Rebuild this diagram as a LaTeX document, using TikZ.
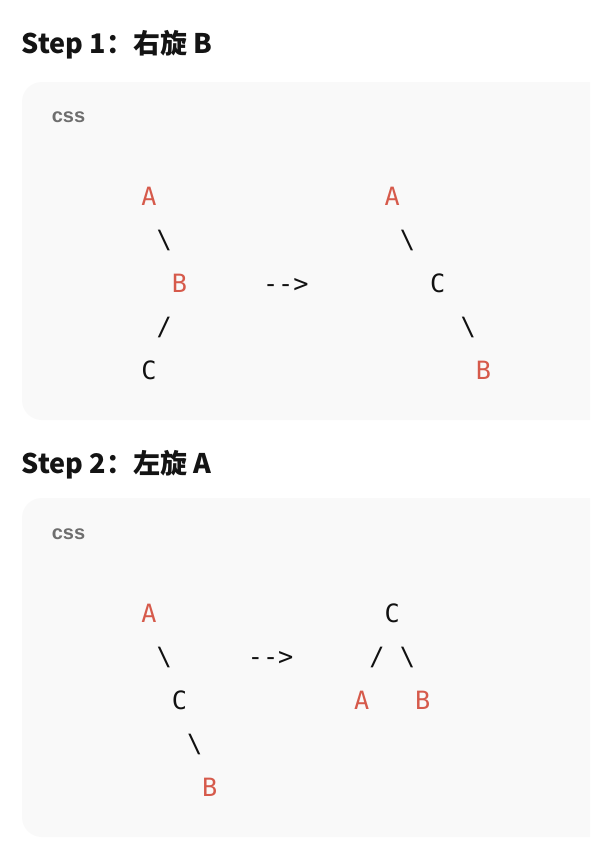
\documentclass[tikz,border=0pt]{standalone}
\usepackage{fontspec}
\setmainfont{Liberation Sans}
\setmonofont{DejaVu Sans Mono}
\newfontfamily\titlefont{Noto Sans CJK SC}

\definecolor{nodered}{HTML}{D65A4B}
\definecolor{codeink}{HTML}{111111}
\definecolor{panelbg}{HTML}{F9F9F9}
\definecolor{labelgray}{HTML}{6E6E6E}
\definecolor{titleink}{HTML}{141414}

\newcommand{\codefont}{\ttfamily\fontsize{18.9}{22}\selectfont}
\newcommand{\fwdslash}{/}

\tikzset{
  mono/.style={font=\codefont, text=codeink, inner sep=0pt, anchor=base},
  hot/.style={mono, text=nodered},
  heading/.style={font=\titlefont\bfseries\fontsize{20.25}{24}\selectfont, text=titleink, inner sep=0pt, anchor=base west},
  langtag/.style={font=\bfseries\fontsize{15}{18}\selectfont, text=labelgray, inner sep=0pt, anchor=base west},
  codebox/.style={fill=panelbg, rounded corners=15pt}
}

\begin{document}
\begin{tikzpicture}[x=0.75pt, y=-0.75pt]

% Page (pixel grid, y downwards)
\fill[white] (0,0) rectangle (590,846);
\clip (0,0) rectangle (590,846);

% Character grid of the code blocks
\def\cw{15.2}
\def\lh{43.6}
\def\colzero{149}
\def\baseA{205}
\def\baseB{622}

% Headings
\node[heading] (title1) at (21.5,53) {Step 1：右旋 B};
\node[heading] (title2) at (21.5,473) {Step 2：左旋 A};

% Code block panels (run off the right edge)
\fill[codebox] (22,82) rectangle (620,420);
\fill[codebox] (22,498) rectangle (620,837);

% Language tags
\node[langtag] (tag1) at (51.5,122) {css};
\node[langtag] (tag2) at (51.5,539.5) {css};

% Step 1 -- right rotation of B
\foreach \nm/\c/\r/\t/\s in {s1lA/0/0/A/hot, s1le1/1/1/\textbackslash/mono, s1lB/2/2/B/hot,
    s1le2/1/3/\fwdslash/mono, s1lC/0/4/C/mono,
    s1rA/16/0/A/hot, s1re1/17/1/\textbackslash/mono, s1rC/19/2/C/mono,
    s1re2/21/3/\textbackslash/mono, s1rB/22/4/B/hot} {
    \node[\s] (\nm) at (\colzero+\c*\cw, \baseA+\r*\lh) {\t};
}
\node[mono] (s1arrow) at (\colzero+9*\cw, \baseA+2*\lh) {-{}-{}>};

% Step 2 -- left rotation of A
\foreach \nm/\c/\r/\t/\s in {s2lA/0/0/A/hot, s2le1/1/1/\textbackslash/mono, s2lC/2/2/C/mono,
    s2le2/3/3/\textbackslash/mono, s2lB/4/4/B/hot,
    s2rC/16/0/C/mono, s2re1/15/1/\fwdslash/mono, s2re2/17/1/\textbackslash/mono,
    s2rA/14/2/A/hot, s2rB/18/2/B/hot} {
    \node[\s] (\nm) at (\colzero+\c*\cw, \baseB+\r*\lh) {\t};
}
\node[mono] (s2arrow) at (\colzero+8*\cw, \baseB+1*\lh) {-{}-{}>};

\end{tikzpicture}
\end{document}
